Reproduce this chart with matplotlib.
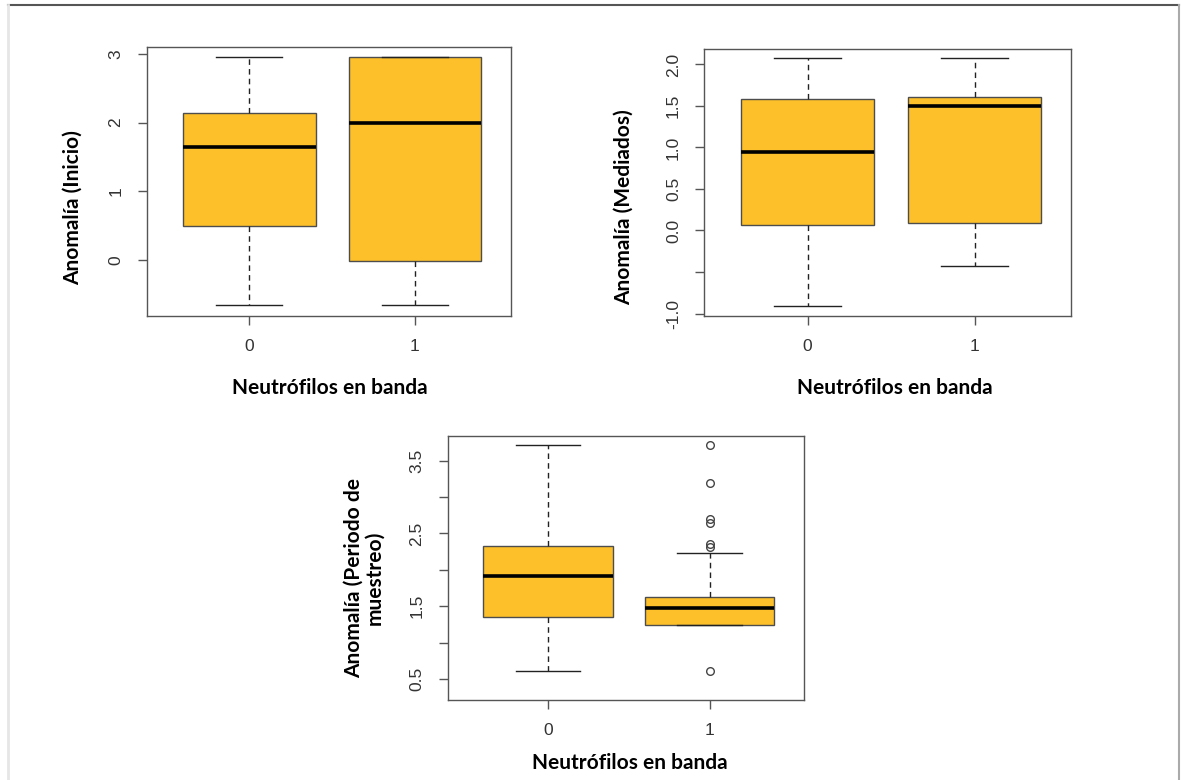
import numpy as np
import matplotlib
matplotlib.use("Agg")
import matplotlib.pyplot as plt
from matplotlib.lines import Line2D

# datos (cuartiles, bigotes y atipicos)
grupos = ["0", "1"]

inicio_med = [1.64, 2.00]
inicio_q1 = [0.50, -0.02]
inicio_q3 = [2.14, 2.95]
inicio_whislo = [-0.65, -0.65]
inicio_whishi = [2.95, 2.95]

mediados_med = [0.94, 1.50]
mediados_q1 = [0.07, 0.09]
mediados_q3 = [1.59, 1.61]
mediados_whislo = [-0.91, -0.43]
mediados_whishi = [2.08, 2.08]

periodo_med = [1.91, 1.47]
periodo_q1 = [1.35, 1.24]
periodo_q3 = [2.33, 1.63]
periodo_whislo = [0.61, 1.24]
periodo_whishi = [3.71, 2.23]
periodo_fliers = [[], [3.71, 3.20, 2.70, 2.64, 2.35, 2.31, 0.61]]

yticks_inicio = [0, 1, 2, 3]
yticklabels_inicio = ["0", "1", "2", "3"]
yticks_mediados = [-1.0, -0.5, 0.0, 0.5, 1.0, 1.5, 2.0]
yticklabels_mediados = ["-1.0", "", "0.0", "0.5", "1.0", "1.5", "2.0"]
yticks_periodo = [0.5, 1.0, 1.5, 2.0, 2.5, 3.0, 3.5]
yticklabels_periodo = ["0.5", "", "1.5", "", "2.5", "", "3.5"]

xlabel = "Neutrófilos en banda"
LABEL_FONT = "Lato"
TICK_FONT = "Liberation Sans"


def stats(med, q1, q3, lo, hi, fliers=None):
    out = []
    for i in range(len(med)):
        out.append(dict(med=med[i], q1=q1[i], q3=q3[i], whislo=lo[i], whishi=hi[i],
                        fliers=fliers[i] if fliers else [], label=grupos[i]))
    return out


def draw(ax, st, ylim, yticks, yticklabels, ylabel, ylab_xy, xlab_xy):
    ax.bxp(st, positions=[0, 1], widths=0.8, patch_artist=True,
           boxprops=dict(facecolor="#fdc02a", edgecolor="#4d4d4d", linewidth=1),
           medianprops=dict(color="black", linewidth=2.6),
           whiskerprops=dict(color="#222222", linestyle=(0, (4, 3)), linewidth=1),
           capprops=dict(color="#222222", linewidth=1),
           flierprops=dict(marker="o", markerfacecolor="none", markeredgecolor="#444444",
                           markersize=5.5, markeredgewidth=1))
    ax.set_xlim(-0.62, 1.58)
    ax.set_ylim(*ylim)
    ax.set_xticks([0, 1])
    ax.set_xticklabels(grupos, fontfamily=TICK_FONT, fontsize=12.5, color="#333333")
    ax.set_yticks(yticks)
    ax.set_yticklabels(yticklabels, fontfamily=TICK_FONT, fontsize=12.5, color="#333333",
                       rotation=90, va="center")
    ax.tick_params(axis="y", length=6.7, width=1, color="#555555", pad=10)
    ax.tick_params(axis="x", length=6.7, width=1, color="#555555", pad=10)
    for s in ax.spines.values():
        s.set_color("#555555")
        s.set_linewidth(1)
    ax.set_xlabel(xlabel, fontfamily=LABEL_FONT, fontweight="bold", fontsize=15)
    ax.xaxis.label.set_va("center")
    ax.xaxis.set_label_coords(*xlab_xy)
    ax.set_ylabel(ylabel, fontfamily=LABEL_FONT, fontweight="bold", fontsize=15,
                  multialignment="center", linespacing=1.05)
    ax.yaxis.label.set_va("center")
    ax.yaxis.set_label_coords(*ylab_xy)


W, H = 1181, 780
fig = plt.figure(figsize=(W / 100, H / 100), dpi=100)
fig.patch.set_facecolor("white")


def px_axes(left, right, top, bottom):
    return fig.add_axes([left / W, 1 - bottom / H, (right - left) / W, (bottom - top) / H])


ax1 = px_axes(146.7, 511, 47, 316)
draw(ax1, stats(inicio_med, inicio_q1, inicio_q3, inicio_whislo, inicio_whishi),
     (-0.815, 3.10), yticks_inicio, yticklabels_inicio, "Anomalía (Inicio)",
     (-0.202, 0.403), (0.502, -0.268))

ax2 = px_axes(704.2, 1071.3, 48.7, 316)
draw(ax2, stats(mediados_med, mediados_q1, mediados_q3, mediados_whislo, mediados_whishi),
     (-1.03, 2.19), yticks_mediados, yticklabels_mediados, "Anomalía (Mediados)",
     (-0.218, 0.406), (0.519, -0.269))

ax3 = px_axes(447.7, 803.5, 436, 700)
draw(ax3, stats(periodo_med, periodo_q1, periodo_q3, periodo_whislo, periodo_whishi, periodo_fliers),
     (0.21, 3.84), yticks_periodo, yticklabels_periodo, "Anomalía (Periodo de\nmuestreo)",
     (-0.235, 0.462), (0.512, -0.239))

# marco de la pagina
fig.add_artist(Line2D([8 / W, 1179 / W], [1 - 5 / H, 1 - 5 / H], transform=fig.transFigure,
                      color="#555555", linewidth=1.5))
fig.add_artist(Line2D([8 / W, 8 / W], [0, 1 - 5 / H], transform=fig.transFigure,
                      color="#e6e6e6", linewidth=2))
fig.add_artist(Line2D([1179 / W, 1179 / W], [0, 1 - 5 / H], transform=fig.transFigure,
                      color="#aaaaaa", linewidth=1.5))

fig.savefig("out.png", dpi=100)
